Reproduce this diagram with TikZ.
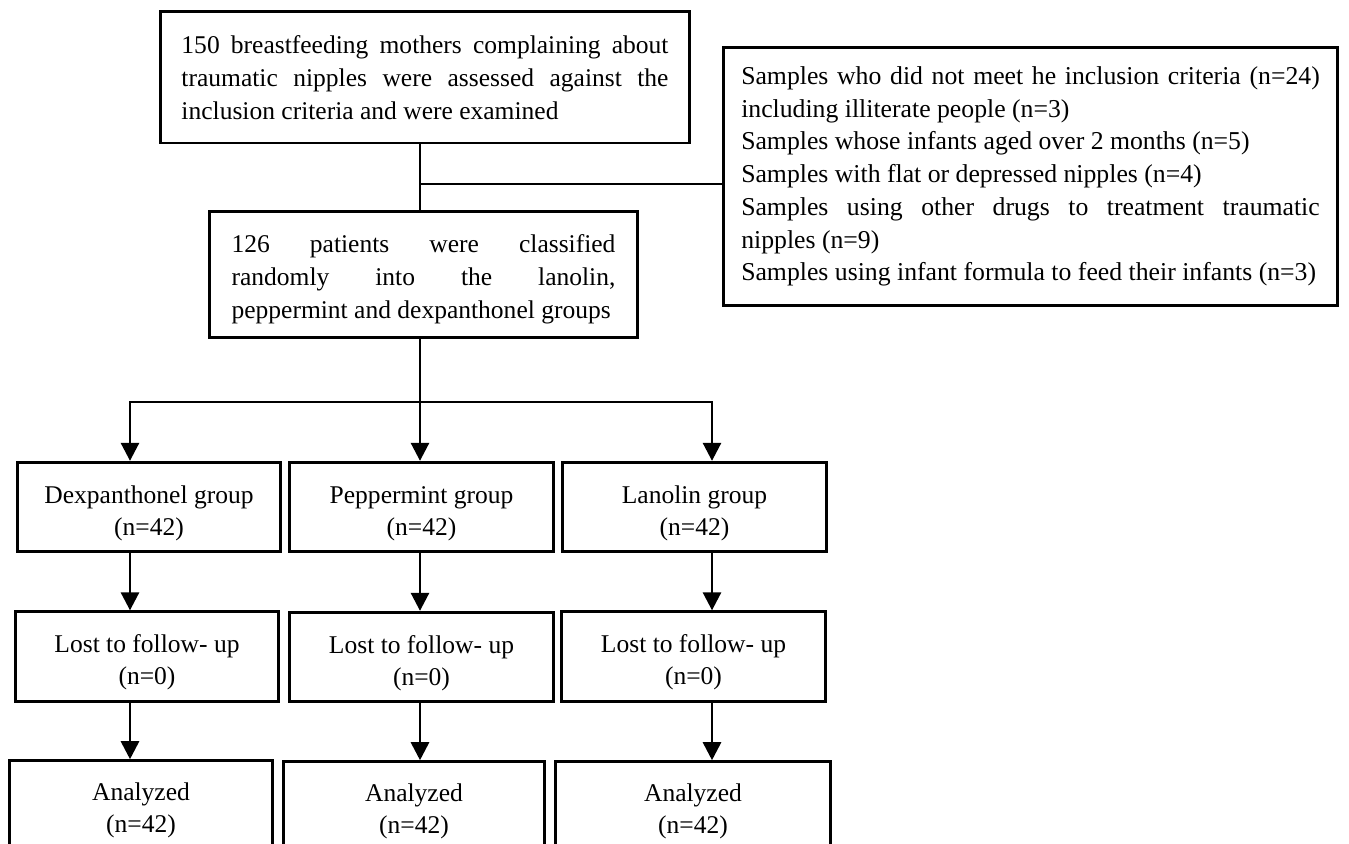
\documentclass[tikz,border=0pt]{standalone}
\usepackage{fontspec}
\setmainfont{Liberation Serif}
\usetikzlibrary{arrows.meta,positioning}
\setlength{\parindent}{0pt}
\hyphenpenalty=10000
\exhyphenpenalty=10000
\newcommand{\topgap}[1]{\rule{0pt}{#1}}

\begin{document}
\begin{tikzpicture}[x=0.01653cm,y=-0.01653cm,
        box/.style={draw, line width=1.4pt, inner xsep=10pt, align=justify,
            font=\fontsize{12}{15.5}\selectfont},
        grp/.style={draw, line width=1.4pt, minimum width=124pt,
            minimum height=42pt, align=center,
            font=\fontsize{12}{15}\selectfont},
        ln/.style={line width=1.3pt},
        arr/.style={line width=1.3pt, -{Triangle[length=8.5pt,width=8.5pt]}}]
        \useasboundingbox (0,0) rectangle (1349,844);
        \clip (0,0) rectangle (1349,844);

        % screening and randomisation
        \node[box, text width=229pt, minimum height=61.6pt]
            (assess) at (425,77.5)
            {150 breastfeeding mothers complaining about\linebreak
            traumatic nipples were assessed against the\linebreak
            inclusion criteria and were examined};
        \node[box, inner xsep=10.25pt, text width=180.5pt, minimum height=58.8pt]
            (randz) at (423.5,274.5)
            {\topgap{13pt}126 patients were classified\linebreak
            randomly into the lanolin,\linebreak
            peppermint and dexpanthonel groups};
        \node[box, inner xsep=8.5pt, text width=272pt, minimum height=120.9pt,
            font=\fontsize{12.1}{15.4}\selectfont]
            (excl) at (1030.5,176.5)
            {Samples who did not meet he inclusion criteria (n=24)\linebreak
            including illiterate people (n=3)\\
            Samples whose infants aged over 2 months (n=5)\\
            Samples with flat or depressed nipples (n=4)\\
            Samples using other drugs to treatment traumatic\linebreak
            nipples (n=9)\\
            Samples using infant formula to feed their infants (n=3)};

        % three groups
        \node[grp] (dex) at (149,507) {\topgap{14pt}Dexpanthonel group\\(n=42)};
        \node[grp] (pep) at (421.5,507) {\topgap{14pt}Peppermint group\\(n=42)};
        \node[grp] (lan) at (694.5,507) {\topgap{14pt}Lanolin group\\(n=42)};

        \node[grp] (lost1) at (147,656.5) {\topgap{14pt}Lost to follow- up\\(n=0)};
        \node[grp] (lost2) at (421.5,657) {\topgap{14pt}Lost to follow- up\\(n=0)};
        \node[grp] (lost3) at (693.5,656.5) {\topgap{14pt}Lost to follow- up\\(n=0)};

        \node[grp, minimum height=44pt] (ana1) at (141,807.5) {\topgap{11pt}Analyzed\\(n=42)};
        \node[grp, minimum height=44pt, minimum width=123pt] (ana2) at (414,808.5) {\topgap{11pt}Analyzed\\(n=42)};
        \node[grp, minimum height=44pt, minimum width=129pt] (ana3) at (693,808.5) {\topgap{11pt}Analyzed\\(n=42)};

        % connectors
        \coordinate (split) at (420,184);
        \coordinate (fork) at (420,402);
        \coordinate (forkl) at (130,402);
        \coordinate (forkr) at (712,402);

        \draw[ln] (assess.south -| split) -- (randz.north -| split);
        \draw[ln] (split) -- (excl.west |- split);

        \draw[arr] (randz.south -| fork) -- (pep.north -| fork);
        \draw[arr] (fork) -| (dex.north -| forkl);
        \draw[arr] (fork) -| (lan.north -| forkr);

        \foreach \a/\b/\c in {dex/lost1/forkl, pep/lost2/fork, lan/lost3/forkr,
            lost1/ana1/forkl, lost2/ana2/fork, lost3/ana3/forkr}
        \draw[arr] (\a.south -| \c) -- (\b.north -| \c);

    \end{tikzpicture}
\end{document}
